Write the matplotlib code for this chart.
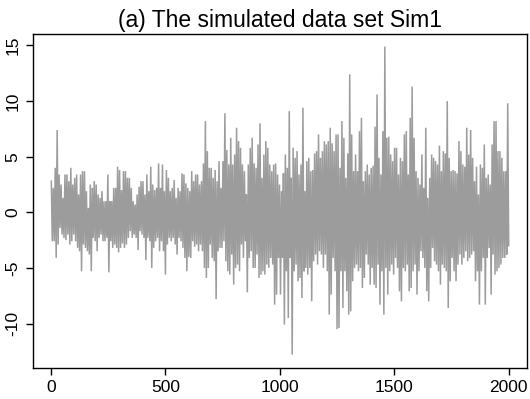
import numpy as np
import matplotlib
matplotlib.use("Agg")
import matplotlib.pyplot as plt

plt.rcParams['font.family'] = ['Liberation Sans', 'DejaVu Sans']

title = "(a) The simulated data set Sim1"

# Upper / lower extremes of the series, read in narrow column groups (left to right)
upper = [
    2.8, 2.2, 4.0, 7.4, 3.4, 2.5, 1.3, 3.4, 3.4, 2.8, 4.0, 2.5, 3.1, 3.4, 1.6, 3.4, 3.7, 3.7, 1.9, 0.4, 2.5, 2.2, 2.8, 2.5, 1.6, 1.3, 1.9, 1.0,
    1.0, 3.4, 1.0, 1.0, 2.2, 2.2, 4.1, 3.8, 2.0, 3.7, 3.7, 3.1, 3.1, 2.2, 1.0, 0.7, 1.6, 2.3, 2.8, 2.8, 1.6, 3.4, 1.9, 4.1, 2.5, 2.0, 2.2, 4.4, 2.2,
    4.3, 1.9, 3.8, 3.1, 1.9, 2.2, 2.9, 1.3, 2.2, 1.9, 3.5, 3.4, 2.6, 2.2, 1.9, 3.7, 2.8, 3.4, 3.4, 2.5, 2.8, 4.4, 8.2, 5.5, 4.0, 4.0, 3.1, 3.8, 2.8, 4.6,
    2.2, 4.6, 8.9, 5.6, 4.3, 6.7, 4.3, 5.2, 7.6, 6.4, 5.8, 4.3, 3.7, 1.6, 4.3, 5.8, 6.7, 4.4, 4.0, 6.1, 8.0, 3.1, 5.2, 6.4, 5.8, 4.3, 3.7, 4.3, 4.4, 3.4,
    2.5, 1.9, 3.5, 5.2, 4.0, 9.1, 3.1, 5.8, 4.9, 5.5, 3.4, 4.3, 9.4, 1.9, 4.6, 4.9, 3.7, 3.8, 5.3, 5.5, 7.0, 4.9, 5.5, 6.4, 6.1, 6.4, 7.6, 6.2, 5.5, 7.0,
    7.0, 4.0, 8.2, 6.7, 3.1, 5.3, 12.4, 7.0, 3.7, 5.2, 3.7, 7.3, 8.5, 2.8, 3.7, 4.3, 3.4, 4.0, 4.2, 7.7, 10.6, 4.9, 3.4, 7.3, 14.9, 6.7, 6.8, 5.2, 4.6, 5.8,
    5.8, 3.4, 4.9, 4.6, 7.0, 7.3, 3.4, 8.5, 11.3, 6.7, 3.7, 3.1, 2.5, 5.2, 2.2, 7.6, 1.3, 3.1, 5.2, 4.9, 4.6, 4.3, 6.0, 3.7, 5.5, 5.3, 10.0, 4.9, 3.7, 3.8,
    3.7, 3.5, 6.4, 5.5, 4.3, 4.1, 7.6, 5.2, 7.4, 4.9, 2.8, 4.1, 1.6, 4.3, 4.0, 6.1, 3.1, 3.4, 2.5, 6.1, 8.2, 8.2, 5.5, 5.5, 4.9, 3.7, 3.7, 9.8,
]
lower = [
    -2.6, -2.6, -4.1, -2.9, -1.4, -2.0, -2.3, -2.5, -2.0, -2.9, -2.6, -2.0, -2.6, -3.2, -3.5, -5.3, -2.9, -3.2, -3.5, -3.8, -5.3, -2.3, -2.6, -3.5, -2.3, -2.0, -2.6, -2.6,
    -2.3, -5.4, -2.6, -3.2, -2.9, -3.2, -3.6, -3.2, -2.8, -3.2, -2.9, -2.3, -1.7, -2.3, -2.0, -2.3, -3.4, -1.7, -2.0, -2.3, -4.3, -2.3, -2.6, -5.0, -3.2, -2.6, -2.3, -3.5, -2.6,
    -3.5, -5.6, -2.9, -2.3, -2.6, -2.3, -2.9, -3.8, -2.3, -2.6, -3.2, -4.1, -5.3, -4.0, -4.1, -2.6, -3.1, -2.9, -3.5, -2.9, -3.5, -5.0, -5.9, -5.0, -2.9, -4.1, -4.4, -7.8, -3.5, -3.2,
    -3.2, -2.6, -4.4, -5.3, -5.6, -3.8, -6.5, -5.0, -4.7, -5.3, -2.9, -4.1, -2.6, -7.2, -4.1, -3.5, -5.0, -5.0, -3.8, -5.9, -5.6, -5.3, -5.6, -4.7, -5.0, -4.1, -4.7, -8.3, -7.4, -4.1,
    -7.4, -4.1, -10.1, -5.3, -9.5, -4.1, -12.8, -5.3, -4.7, -6.2, -5.9, -7.7, -5.3, -5.0, -5.6, -5.0, -8.0, -4.4, -3.8, -4.7, -3.5, -3.8, -5.0, -3.8, -5.3, -9.2, -7.4, -4.1, -5.3, -10.5,
    -10.4, -5.3, -8.6, -5.3, -7.1, -9.2, -8.9, -6.2, -5.0, -4.7, -5.3, -5.0, -6.8, -5.9, -3.8, -4.7, -6.5, -5.0, -6.5, -6.8, -4.7, -8.3, -5.3, -9.2, -5.0, -7.4, -5.3, -4.7, -5.6, -4.1,
    -5.0, -7.1, -8.0, -5.0, -5.3, -4.7, -7.1, -6.8, -5.3, -4.7, -7.4, -5.3, -3.5, -4.1, -5.0, -7.1, -8.0, -5.0, -3.2, -4.4, -4.7, -5.3, -6.5, -4.7, -5.0, -5.3, -8.6, -6.2, -4.1, -5.3,
    -6.2, -4.7, -3.8, -4.7, -4.1, -3.5, -4.4, -4.1, -3.8, -3.5, -6.2, -5.3, -8.3, -5.3, -4.1, -8.3, -4.1, -3.2, -7.4, -3.8, -5.6, -5.3, -5.0, -4.7, -4.1, -4.1, -3.8, -3.0,
]
x_ticks = [0, 500, 1000, 1500, 2000]
y_ticks = [-10, -5, 0, 5, 10, 15]
n_obs = 2000

n = min(len(upper), len(lower))
series = np.empty(2 * n)
series[0::2] = upper[:n]
series[1::2] = lower[:n]
t = np.linspace(1, n_obs, 2 * n)

fig = plt.figure(figsize=(5.30, 3.99), dpi=100)
ax = fig.add_axes([33 / 530, 1 - 367.7 / 399, (527 - 33) / 530, (367.7 - 34) / 399])
ax.plot(t, series, color='#9c9c9c', linewidth=1.1, solid_joinstyle='miter')

ax.set_xlim(-79, 2080)
ax.set_ylim(-13.97, 16.03)
ax.set_xticks(x_ticks)
ax.set_yticks(y_ticks)
ax.set_xticklabels([str(v) for v in x_ticks])
ax.set_yticklabels([str(v) for v in y_ticks], rotation=90, va='center')
ax.tick_params(direction='out', length=5, width=1, labelsize=12.5, pad=4, color='black')
for s in ax.spines.values():
    s.set_linewidth(1.0)
    s.set_color('black')
ax.set_title(title, fontsize=16.5, pad=5)

fig.savefig('out.png', dpi=100)
